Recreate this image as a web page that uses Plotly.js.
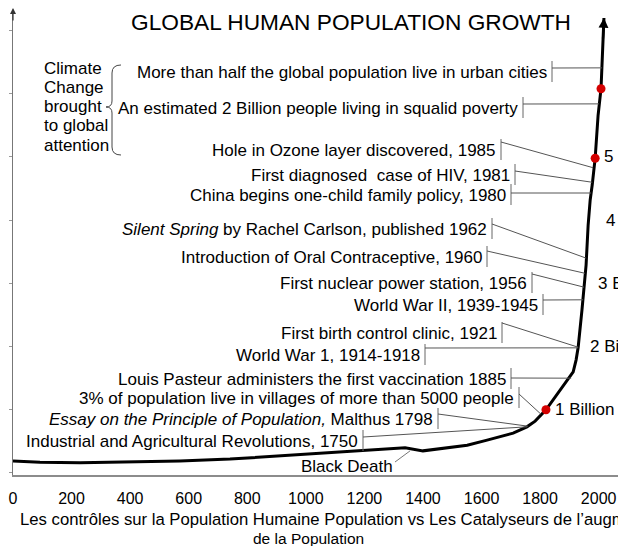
<!DOCTYPE html>
<html>
<head>
<meta charset="utf-8">
<script src="https://cdn.plot.ly/plotly-3.0.1.min.js"></script>
<style>html,body{margin:0;padding:0;background:#fff;overflow:hidden}#chart{width:618px;height:546px}</style>
</head>
<body>
<div id="chart"></div>
<script>
// ---------- DATA ----------
// population curve: year, billions
const years = [0, 92, 229, 400, 570, 741, 912, 1014, 1117, 1253, 1339, 1400, 1458, 1551, 1619, 1708, 1755, 1783, 1820, 1892, 1913, 1923, 1930, 1943, 1950, 1957, 1964, 1971, 1978, 1988, 1998, 2008, 2018];
const pops  = [0.19, 0.17, 0.16, 0.17, 0.19, 0.22, 0.27, 0.30, 0.33, 0.38, 0.40, 0.35, 0.38, 0.44, 0.52, 0.63, 0.73, 0.82, 1.00, 1.46, 1.60, 1.79, 1.99, 2.58, 2.90, 3.29, 3.92, 4.32, 4.56, 4.98, 5.66, 6.08, 7.20];

// red milestone dots
const dotYears = [1820, 1988, 2008];
const dotPops  = [1.00, 4.98, 6.08];

// milestone labels
const milestoneLabels = ["1 Billion", "2 Billion", "3 Billion", "4 Billion", "5 Billion"];
const milestonePops   = [1, 2, 3, 4, 5];

// events: text and the point on the curve the leader line reaches
const eventLabels = [
  "More than half the global population live in urban cities",
  "An estimated 2 Billion people living in squalid poverty",
  "Hole in Ozone layer discovered, 1985",
  "First diagnosed  case of HIV, 1981",
  "China begins one-child family policy, 1980",
  "<i>Silent Spring</i> by Rachel Carlson, published 1962",
  "Introduction of Oral Contraceptive, 1960",
  "First nuclear power station, 1956",
  "World War II, 1939-1945",
  "First birth control clinic, 1921",
  "World War 1, 1914-1918",
  "Louis Pasteur administers the first vaccination 1885",
  "3% of population live in villages of more than 5000 people",
  "<i>Essay on the Principle of Population,</i> Malthus 1798",
  "Industrial and Agricultural Revolutions, 1750"
];
const eventYears = [2011, 2001, 1981, 1978, 1974, 1957, 1953, 1950, 1947, 1930, 1930, 1906, 1803, 1759, 1755];
const eventPops  = [6.41, 5.84, 4.83, 4.60, 4.43, 3.40, 3.16, 2.94, 2.74, 1.99, 1.98, 1.50, 0.93, 0.74, 0.73];

const blackDeathLabel = "Black Death";
const blackDeathYear = 1356, blackDeathPop = 0.35;

const climateLines = ["Climate", "Change", "brought", "to global", "attention"];

const xTickVals = [0, 200, 400, 600, 800, 1000, 1200, 1400, 1600, 1800, 2000];
const xTickText = ["0", "200", "400", "600", "800", "1000", "1200", "1400", "1600", "1800", "2000"];

const titleText = "GLOBAL HUMAN POPULATION GROWTH";
const xTitle1 = "Les contrôles sur la Population Humaine Population vs Les Catalyseurs de l’augmentation";
const xTitle2 = "de la Population";

// ---------- LAYOUT POSITIONS (pixels) ----------
const L = 13, T = 12, W = 605, H = 463;
const xRange = [0, 2066], yRange = [-0.032, 7.294];
const dx = px => xRange[0] + (px - L) / W * (xRange[1] - xRange[0]);
const dy = py => yRange[1] - (py - T) / H * (yRange[1] - yRange[0]);
const paperX = px => (px - L) / W;
const paperY = py => 1 - (py - T) / H;

// bar x, text centre y, leader start y
const eventPos = [
  {bar: 552, y: 72,  ly: 68},
  {bar: 523, y: 108, ly: 104},
  {bar: 501, y: 150, ly: 142},
  {bar: 515, y: 175, ly: 171},
  {bar: 511, y: 195, ly: 193},
  {bar: 492, y: 229, ly: 224},
  {bar: 487, y: 257, ly: 251},
  {bar: 532, y: 283, ly: 274},
  {bar: 543, y: 305, ly: 300},
  {bar: 502, y: 333, ly: 323},
  {bar: 425, y: 355, ly: 348},
  {bar: 511, y: 379, ly: 378},
  {bar: 519, y: 398, ly: 394},
  {bar: 438, y: 419, ly: 414},
  {bar: 363, y: 441, ly: 437}
];
const milestoneX = [553, 588, 596, 604, 602];

const FONT = "Liberation Sans, Arial, sans-serif";

const shapes = [];
const annotations = [];

eventLabels.forEach((t, i) => {
  const p = eventPos[i];
  shapes.push({type: "line", xref: "x", yref: "y", x0: dx(p.bar), x1: dx(p.bar), y0: dy(p.y - 11), y1: dy(p.y + 10),
               line: {color: "#666", width: 1}});
  shapes.push({type: "line", xref: "x", yref: "y", x0: dx(p.bar), y0: dy(p.ly), x1: eventYears[i], y1: eventPops[i],
               line: {color: "#555", width: 1}});
  annotations.push({text: t, x: dx(p.bar), y: dy(p.y), xref: "x", yref: "y", xanchor: "right", yanchor: "middle",
                    xshift: -3, showarrow: false, font: {family: FONT, size: 17, color: "#000"}});
});

// Black Death
annotations.push({text: blackDeathLabel, x: dx(347), y: dy(466), xref: "x", yref: "y", xanchor: "center", yanchor: "middle",
                  showarrow: false, font: {family: FONT, size: 17, color: "#000"}});
shapes.push({type: "line", xref: "x", yref: "y", x0: dx(395), y0: dy(462), x1: blackDeathYear, y1: blackDeathPop,
             line: {color: "#777", width: 1}});

// milestones
milestoneLabels.forEach((t, i) => {
  annotations.push({text: t, x: dx(milestoneX[i]), y: milestonePops[i], xref: "x", yref: "y", xanchor: "left", yanchor: "middle",
                    showarrow: false, font: {family: FONT, size: 17, color: "#000"}});
});

// climate block
climateLines.forEach((t, i) => {
  annotations.push({text: t, x: paperX(42), y: paperY(68 + i * 19.3), xref: "paper", yref: "paper", xanchor: "left", yanchor: "middle",
                    showarrow: false, font: {family: FONT, size: 17, color: "#000"}});
});
// curly brace
(function () {
  const P = (x, y) => paperX(x).toFixed(5) + "," + paperY(y).toFixed(5);
  const path = "M" + P(121, 65) + " Q" + P(112, 65) + " " + P(112, 73) + " L" + P(112, 101) +
               " Q" + P(112, 107) + " " + P(106, 107) + " Q" + P(112, 107) + " " + P(112, 113) +
               " L" + P(112, 147) + " Q" + P(112, 155) + " " + P(121, 155);
  shapes.push({type: "path", xref: "paper", yref: "paper", path: path, line: {color: "#444", width: 1}});
})();

// x title lines
annotations.push({text: xTitle1, x: paperX(18), y: paperY(519), xref: "paper", yref: "paper", xanchor: "left", yanchor: "middle",
                  showarrow: false, font: {family: FONT, size: 16.7, color: "#000"}});
annotations.push({text: xTitle2, x: paperX(308), y: paperY(538), xref: "paper", yref: "paper", xanchor: "center", yanchor: "middle",
                  showarrow: false, font: {family: FONT, size: 15.5, color: "#000"}});

// arrow heads: curve and left axis
annotations.push({text: "", x: years[years.length - 1], y: pops[pops.length - 1], xref: "x", yref: "y",
                  showarrow: true, ax: -1, ay: 22, arrowhead: 2, arrowsize: 0.9, arrowwidth: 2.2, arrowcolor: "#000", standoff: 0});
annotations.push({text: "", x: 0, y: paperY(8), xref: "paper", yref: "paper",
                  showarrow: true, ax: 0, ay: 14, arrowhead: 2, arrowsize: 1, arrowwidth: 1.2, arrowcolor: "#333", standoff: 0});

const traces = [
  {x: years, y: pops, type: "scatter", mode: "lines", line: {color: "#000", width: 3}, cliponaxis: false, hoverinfo: "skip"},
  {x: dotYears, y: dotPops, type: "scatter", mode: "markers", marker: {color: "#d40000", size: 9}, cliponaxis: false, hoverinfo: "skip"}
];

const layout = {
  width: 618, height: 546,
  margin: {l: L, r: 618 - L - W, t: T, b: 546 - T - H, pad: 0},
  paper_bgcolor: "#fff", plot_bgcolor: "#fff",
  showlegend: false,
  title: {text: titleText, font: {family: FONT, size: 22.7, color: "#000"},
          x: 351 / 618, xref: "container", xanchor: "center", y: 1 - 22 / 546, yref: "container", yanchor: "middle"},
  xaxis: {range: xRange, tickmode: "array", tickvals: xTickVals, ticktext: xTickText, ticks: "",
          tickfont: {family: FONT, size: 16, color: "#000"}, ticklabelstandoff: 8,
          showline: true, linecolor: "#8c8c8c", linewidth: 2, showgrid: false, zeroline: false, automargin: false, fixedrange: true},
  yaxis: {range: yRange, tick0: 0, dtick: 1, ticks: "outside", ticklen: 3, tickcolor: "#999", showticklabels: false,
          showline: true, linecolor: "#777", linewidth: 1, showgrid: false, zeroline: false, automargin: false, fixedrange: true},
  shapes: shapes,
  annotations: annotations
};

Plotly.newPlot("chart", traces, layout, {displayModeBar: false, staticPlot: true});
</script>
</body>
</html>
